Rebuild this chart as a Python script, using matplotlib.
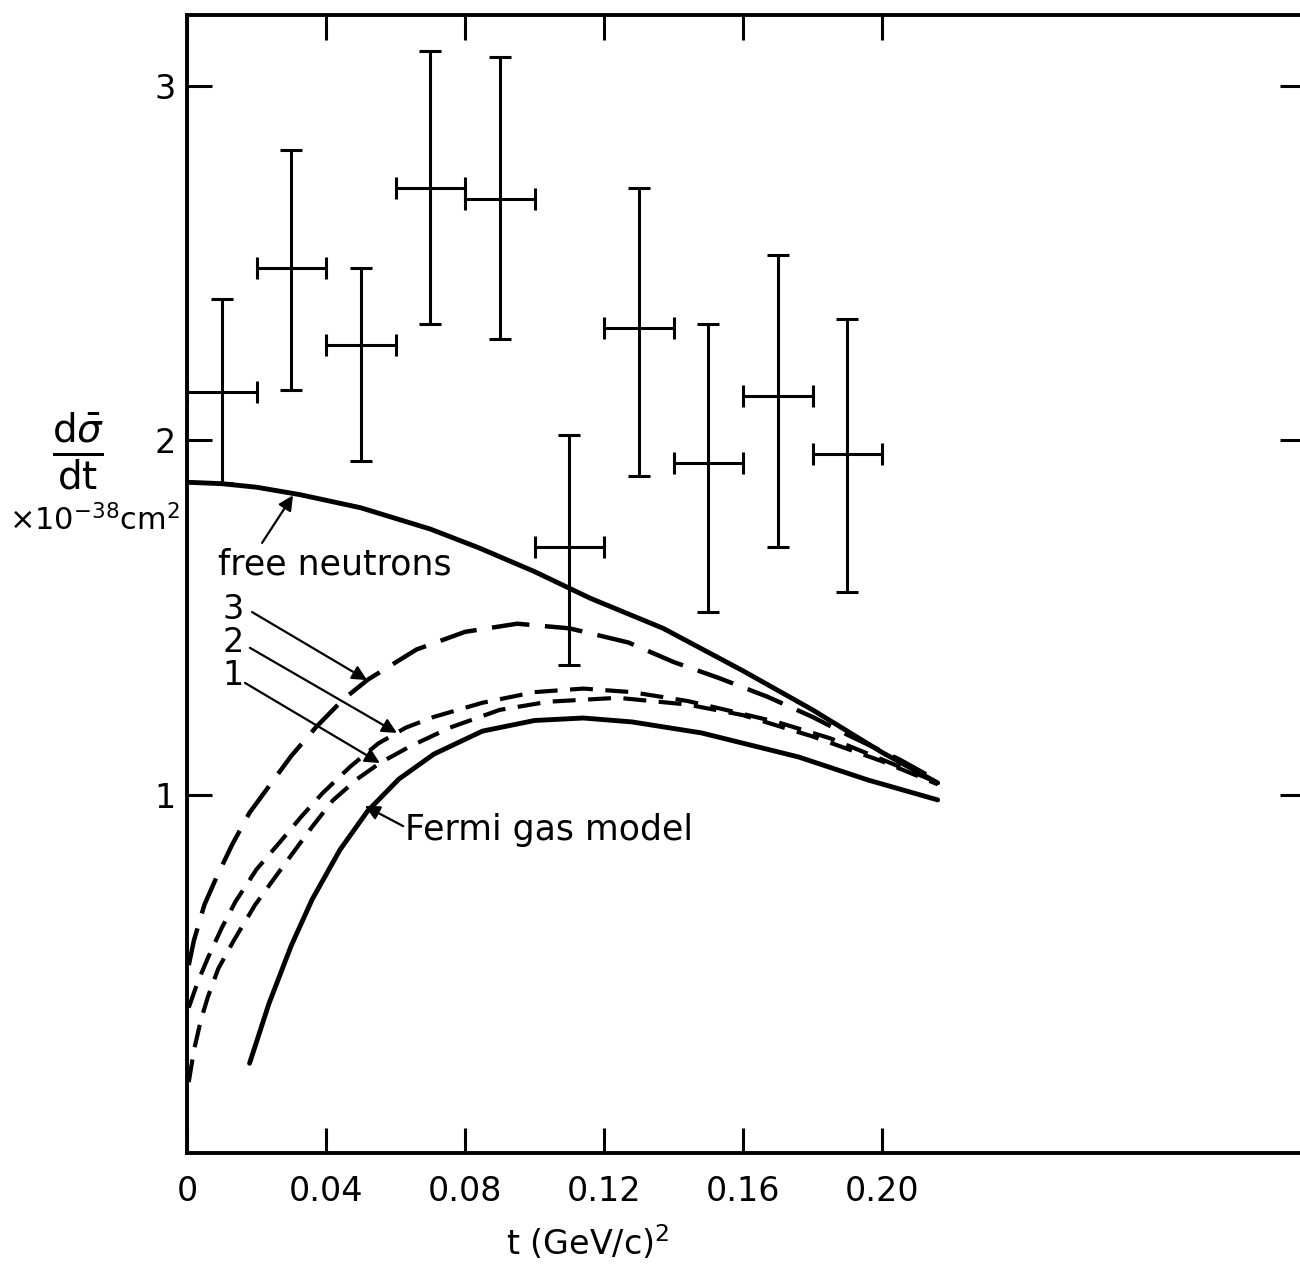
import numpy as np
import matplotlib
matplotlib.use("Agg")
import matplotlib.pyplot as plt

plt.rcParams["font.family"] = ["DejaVu Sans"]
plt.rcParams["mathtext.fontset"] = "dejavusans"

# measured points (t in (GeV/c)^2, dsigma/dt in 1e-38 cm^2)
t_data = [0.01, 0.03, 0.05, 0.07, 0.09, 0.11, 0.13, 0.15, 0.17, 0.19]
t_err = [0.01] * 10
y_data = [2.136, 2.486, 2.268, 2.712, 2.681, 1.70, 2.316, 1.935, 2.124, 1.963]
y_top = [2.40, 2.819, 2.486, 3.099, 3.082, 2.014, 2.712, 2.328, 2.523, 2.342]
y_bot = [1.88, 2.141, 1.941, 2.328, 2.285, 1.367, 1.901, 1.517, 1.70, 1.573]

# free neutrons
t_free = [0.0, 0.01, 0.02, 0.0325, 0.05, 0.07, 0.084, 0.10, 0.116, 0.137, 0.16, 0.18, 0.20, 0.216]
y_free = [1.882, 1.878, 1.868, 1.847, 1.81, 1.75, 1.697, 1.63, 1.555, 1.47, 1.35, 1.24, 1.12, 1.034]

# curve 3 (long dash)
t_c3 = [0.0005, 0.002, 0.005, 0.0086, 0.013, 0.018, 0.024, 0.030, 0.037, 0.045, 0.052,
        0.066, 0.080, 0.095, 0.110, 0.127, 0.140, 0.153, 0.167, 0.180, 0.190, 0.205, 0.216]
y_c3 = [0.52, 0.59, 0.69, 0.77, 0.86, 0.95, 1.03, 1.11, 1.19, 1.27, 1.325,
        1.41, 1.46, 1.483, 1.47, 1.43, 1.375, 1.33, 1.277, 1.22, 1.17, 1.10, 1.04]

# curve 2 (short dash)
t_c2 = [0.0005, 0.003, 0.006, 0.010, 0.014, 0.020, 0.027, 0.033, 0.039, 0.047, 0.055,
        0.063, 0.071, 0.085, 0.100, 0.114, 0.128, 0.144, 0.155, 0.170, 0.185, 0.200, 0.216]
y_c2 = [0.40, 0.47, 0.54, 0.625, 0.70, 0.79, 0.87, 0.94, 1.005, 1.08, 1.145,
        1.19, 1.22, 1.26, 1.29, 1.30, 1.29, 1.265, 1.24, 1.205, 1.16, 1.10, 1.035]

# curve 1 (short dash)
t_c1 = [0.0005, 0.002, 0.004, 0.006, 0.009, 0.0135, 0.0196, 0.027, 0.036, 0.042, 0.049,
        0.0555, 0.064, 0.0757, 0.090, 0.104, 0.124, 0.144, 0.160, 0.180, 0.200, 0.216]
y_c1 = [0.19, 0.28, 0.365, 0.43, 0.51, 0.59, 0.69, 0.79, 0.91, 0.985, 1.045,
        1.09, 1.136, 1.19, 1.24, 1.263, 1.274, 1.255, 1.225, 1.165, 1.095, 1.03]

# Fermi gas model
t_fg = [0.018, 0.0236, 0.030, 0.036, 0.044, 0.052, 0.061, 0.071, 0.085, 0.100, 0.114,
        0.128, 0.148, 0.176, 0.196, 0.216]
y_fg = [0.243, 0.412, 0.575, 0.705, 0.845, 0.955, 1.045, 1.115, 1.18, 1.21, 1.217,
        1.206, 1.175, 1.107, 1.042, 0.986]

x_ticks = [0, 0.04, 0.08, 0.12, 0.16, 0.20]
x_ticklabels = ["0", "0.04", "0.08", "0.12", "0.16", "0.20"]
y_ticks = [1, 2, 3]

fig = plt.figure(figsize=(13, 12.72), dpi=100)
ax = fig.add_axes([187 / 1300, 119 / 1272, 1118 / 1300, 1138 / 1272])
ax.set_xlim(0, 0.3217)
ax.set_ylim(-0.01, 3.2)

# data with error crosses
ax.errorbar(t_data, y_data, xerr=t_err,
            yerr=[np.array(y_data) - np.array(y_bot), np.array(y_top) - np.array(y_data)],
            fmt="none", ecolor="black", elinewidth=2.2, capsize=8, capthick=2.2)

# theory curves
ax.plot(t_free, y_free, color="black", lw=3.5, solid_capstyle="round")
ax.plot(t_c3, y_c3, color="black", lw=3.2, linestyle=(0, (8.5, 3.5)))
ax.plot(t_c2, y_c2, color="black", lw=3.0, linestyle=(0, (5.5, 3.0)))
ax.plot(t_c1, y_c1, color="black", lw=3.0, linestyle=(0, (5.5, 3.0)))
ax.plot(t_fg, y_fg, color="black", lw=3.5, solid_capstyle="round")

# labels and arrows
arr = dict(arrowstyle="-|>", color="black", lw=1.6, mutation_scale=22, shrinkA=0, shrinkB=0)
ax.text(0.0426, 1.649, "free neutrons", fontsize=25, ha="center", va="center")
ax.annotate("", xy=(0.0305, 1.845), xytext=(0.0216, 1.711), arrowprops=arr)

ax.text(0.0132, 1.522, "3", fontsize=24, ha="center", va="center")
ax.text(0.0132, 1.429, "2", fontsize=24, ha="center", va="center")
ax.text(0.0132, 1.338, "1", fontsize=24, ha="center", va="center")
ax.annotate("", xy=(0.0518, 1.324), xytext=(0.0187, 1.516), arrowprops=arr)
ax.annotate("", xy=(0.0604, 1.175), xytext=(0.0181, 1.415), arrowprops=arr)
ax.annotate("", xy=(0.0555, 1.09), xytext=(0.0167, 1.316), arrowprops=arr)

ax.text(0.0627, 0.901, "Fermi gas model", fontsize=25, ha="left", va="center")
ax.annotate("", xy=(0.0512, 0.969), xytext=(0.0622, 0.912), arrowprops=arr)

# axes styling
for s in ax.spines.values():
    s.set_linewidth(2.8)
ax.set_xticks(x_ticks)
ax.set_xticklabels(x_ticklabels)
ax.set_yticks(y_ticks)
ax.tick_params(axis="both", which="major", direction="in", length=18, width=2.2,
               labelsize=24, top=True, right=True)
ax.tick_params(axis="x", pad=16)
ax.tick_params(axis="y", pad=8)

fig.text(588 / 1300, 1 - 1243 / 1272, "t (GeV/c)$^2$", fontsize=24, ha="center", va="center")
fig.text(78 / 1300, 1 - 452 / 1272, r"$\frac{\mathrm{d}\bar{\sigma}}{\mathrm{dt}}$", fontsize=40,
         ha="center", va="center")
fig.text(94 / 1300, 1 - 520 / 1272, r"$\times10^{-38}$cm$^2$", fontsize=22,
         ha="center", va="center")

fig.savefig("out.png", dpi=100)
